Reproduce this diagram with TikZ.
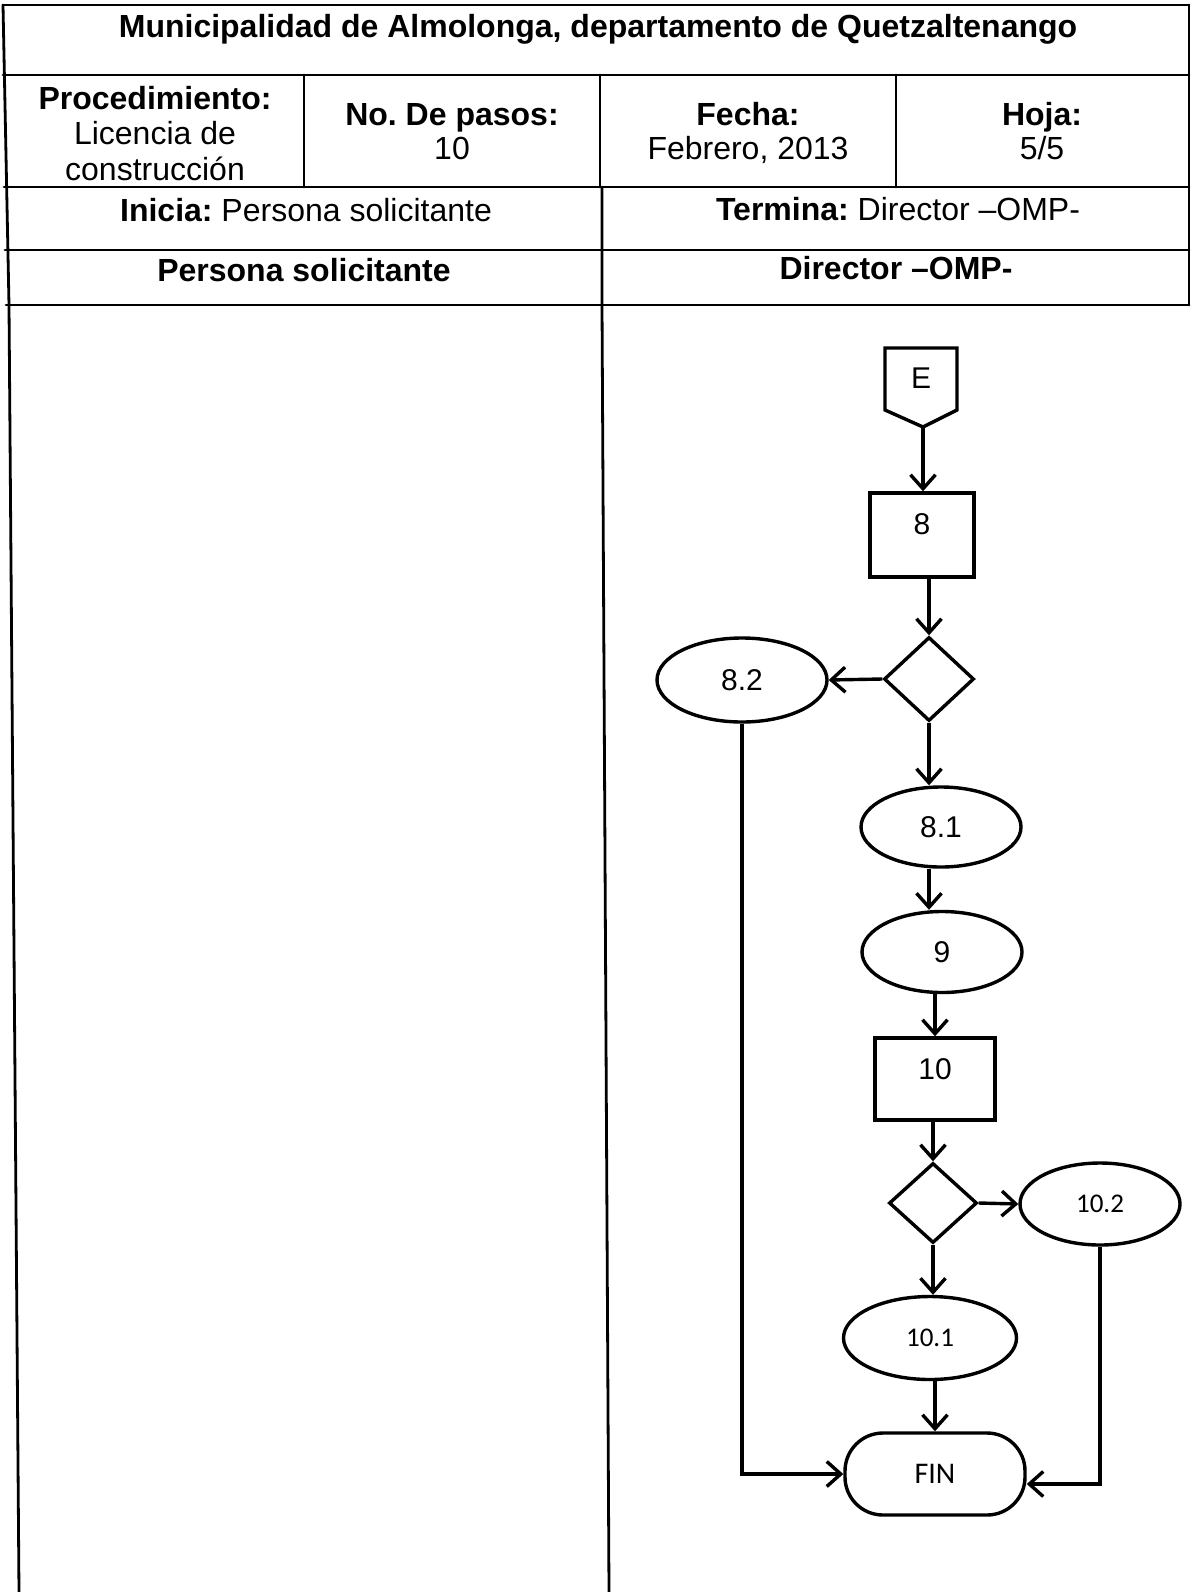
\documentclass[tikz,border=0pt]{standalone}
\usepackage{fontspec}
\setmainfont{Liberation Sans}
\newfontfamily\calfont{Carlito}
\usetikzlibrary{shapes.geometric,arrows.meta}
\frenchspacing

\tikzset{
  grid/.style={line width=2.8pt, line cap=round},
  flow/.style={line width=3.4pt},
  arr/.style={flow, -{Straight Barb[length=14pt,width=25pt,line width=3.4pt]}},
  hdrbold/.style={font=\fontsize{32}{36}\selectfont\bfseries, inner sep=0pt, anchor=base},
  hdr/.style={font=\fontsize{32}{36}\selectfont, inner sep=0pt, anchor=base},
  procbox/.style={flow, draw, rectangle, inner sep=0pt},
  decide/.style={flow, draw, diamond, inner sep=0pt},
  oval/.style={flow, draw, ellipse, inner sep=0pt, font=\fontsize{30}{34}\selectfont},
  ovalc/.style={flow, draw, ellipse, inner sep=0pt, font=\calfont\fontsize{27}{30}\selectfont},
  term/.style={flow, draw, rectangle, rounded corners=38pt, inner sep=0pt, font=\calfont\fontsize{30}{32}\selectfont},
  lbl/.style={inner sep=0pt, font=\fontsize{30}{34}\selectfont}
}

\begin{document}
\begin{tikzpicture}[x=1pt, y=-1pt]
\useasboundingbox (0,0) rectangle (1191,1592);
\fill[white] (0,0) rectangle (1191,1592);

% ---- form grid ----
\draw[grid] (3,5) -- (1189,5);
\draw[grid] (3,75) -- (1189,75);
\draw[grid] (4,187) -- (1189,187);
\draw[grid] (5,250) -- (1189,250);
\draw[grid] (6,305) -- (1189,305);
\draw[grid] (3,5) -- (9,305) -- (19,1592);
\draw[grid] (1189,5) -- (1189,305);
\draw[grid] (304,75) -- (304,187);
\draw[grid] (600,75) -- (600,187);
\draw[grid] (896,75) -- (896,187);
\draw[grid] (602,187) -- (602,305) -- (609,1592);

% ---- header texts (placed on their baselines) ----
\node[hdrbold] (title) at (598,38) {Municipalidad de Almolonga, departamento de Quetzaltenango};
\node[hdrbold] (proc) at (155,110) {Procedimiento:};
\node[hdr] (proc1) at (155,144) {Licencia de};
\node[hdr] (proc2) at (155,180) {construcción};
\node[hdrbold] (pasos) at (452,125) {No. De pasos:};
\node[hdr] (pasosv) at (452,160) {10};
\node[hdrbold] (fecha) at (748,125) {Fecha:};
\node[hdr] (fechav) at (748,160) {Febrero, 2013};
\node[hdrbold] (hoja) at (1042,125) {Hoja:};
\node[hdr] (hojav) at (1042,160) {5/5};
\node[hdr] (inicia) at (306,221) {\textbf{Inicia:} Persona solicitante};
\node[hdr] (termina) at (898,220) {\textbf{Termina:} Director –OMP-};
\node[hdrbold] (lane1) at (304,281) {Persona solicitante};
\node[hdrbold] (lane2) at (896,279) {Director –OMP-};

% ---- off-page connector E ----
\draw[flow, line join=miter] (885,348) -- (957,348) -- (957,410) -- (923,427) -- (885,410) -- cycle;
\coordinate (Etip) at (923,427);
\node[lbl] (E) at (921,378) {E};

% ---- flow nodes ----
\node[procbox, minimum width=104pt, minimum height=84pt] (b8) at (922,535) {};
\node[lbl] (b8t) at (922,524) {8};
\node[decide, minimum width=90pt, minimum height=84pt] (d1) at (929,679) {};
\node[oval, minimum width=170pt, minimum height=84pt] (e82) at (742,680) {8.2};
\node[oval, minimum width=160pt, minimum height=80pt] (e81) at (941,827) {8.1};
\node[oval, minimum width=160pt, minimum height=81pt] (e9) at (942,952) {9};
\node[procbox, minimum width=120pt, minimum height=82pt] (b10) at (935,1079) {};
\node[lbl] (b10t) at (935,1069) {10};
\node[decide, minimum width=88pt, minimum height=80pt] (d2) at (933,1203) {};
\node[ovalc, minimum width=160pt, minimum height=82pt] (e102) at (1100,1204) {10.2};
\node[ovalc, minimum width=173pt, minimum height=83pt] (e101) at (930,1338) {10.1};
\node[term, minimum width=180pt, minimum height=82pt] (fin) at (935,1474) {FIN};

% ---- connectors ----
\draw[arr] (Etip) -- (Etip |- b8.north);
\draw[arr] (b8.south -| d1.north) -- (d1.north);
\draw[arr] (d1.west) -- (e82.east);
\draw[arr] (d1.south) -- (d1.south |- e81.north);
\draw[arr] (e81.south -| d1.south) -- (e9.north -| d1.south);
\draw[arr] (e9.south -| b10.north) -- (b10.north);
\draw[arr] (b10.south -| d2.north) -- (d2.north);
\draw[arr] (d2.east) -- (e102.west);
\draw[arr] (d2.south) -- (d2.south |- e101.north);
\draw[arr] (e101.south -| fin.north) -- (fin.north);
\draw[arr, line join=miter] (e82.south) |- (fin.west);
\draw[arr, line join=miter] (e102.south) |- ([yshift=-10pt]fin.east);
\end{tikzpicture}
\end{document}
